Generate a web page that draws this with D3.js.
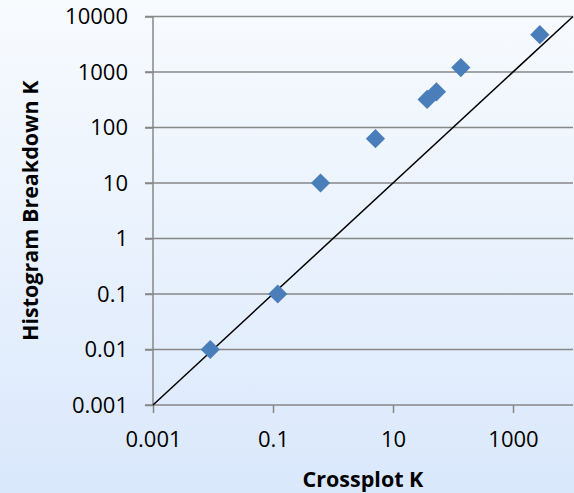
<!DOCTYPE html>
<html>
<head>
<meta charset="utf-8">
<script src="https://cdn.jsdelivr.net/npm/d3@7"></script>
<style>
  body { margin: 0; }
  svg { display: block; }
</style>
</head>
<body>
<div id="chart-area"></div>
<script>
// Crossplot K vs Histogram Breakdown K
var crossplotK = [0.009, 0.12, 0.62, 5.1, 37, 53, 135, 2800]
var histogramK = [0.01, 0.1, 10, 63, 320, 440, 1200, 4700]
var yTicks = [0.001, 0.01, 0.1, 1, 10, 100, 1000, 10000]
var xTicks = [0.001, 0.1, 10, 1000]
var xTitle = "Crossplot K"
var yTitle = "Histogram Breakdown K"

var data = crossplotK.map((d, i) => ({x: d, y: histogramK[i]}))

var cw = 574
var ch = 493
var m = {l: 153, t: 16.5, r: 1, b: 88}
var w = cw - m.l - m.r
var h = ch - m.t - m.b

var svg = d3.select("#chart-area").append("svg")
    .attr("width", cw)
    .attr("height", ch)

var grad = svg.append("defs").append("linearGradient")
    .attr("id", "bg")
    .attr("x1", 0).attr("y1", 0)
    .attr("x2", 0).attr("y2", 1)
grad.append("stop").attr("offset", "0%").attr("stop-color", "#f8fbfe")
grad.append("stop").attr("offset", "100%").attr("stop-color", "#dae8fc")

svg.append("rect")
    .attr("width", cw)
    .attr("height", ch)
    .attr("fill", "url(#bg)")

var g = svg.append("g")
    .attr("transform", "translate(" + m.l + ", " + m.t + ")")

var x = d3.scaleLog()
    .domain([0.001, 10000])
    .range([0, w])

var y = d3.scaleLog()
    .domain([0.001, 10000])
    .range([h, 0])

// horizontal gridlines
g.append("g")
    .attr("class", "grid")
    .selectAll("line")
    .data(yTicks).enter().append("line")
        .attr("x1", -8)
        .attr("x2", w)
        .attr("y1", d => y(d))
        .attr("y2", d => y(d))
        .attr("stroke", "#878787")
        .attr("stroke-width", 1.5)

var leftAxis = d3.axisLeft(y)
    .tickValues(yTicks)
    .tickFormat(d => d3.format("~f")(d))
    .tickSize(8)
    .tickPadding(17)

g.append("g")
    .attr("class", "left axis")
    .call(leftAxis)

var bottomAxis = d3.axisBottom(x)
    .tickValues(xTicks)
    .tickFormat(d => d3.format("~f")(d))
    .tickSize(8)
    .tickPadding(18)

g.append("g")
    .attr("class", "bottom axis")
    .attr("transform", "translate(0, " + h + ")")
    .call(bottomAxis)

g.selectAll(".axis path")
    .attr("stroke", "#878787")
    .attr("stroke-width", 1.5)
g.selectAll(".axis line")
    .attr("stroke", "#878787")
    .attr("stroke-width", 1.5)
g.selectAll(".axis text")
    .attr("font-family", "Open Sans")
    .attr("font-size", "22px")
    .attr("fill", "#000")

g.select(".left.axis").select(".domain").remove()
g.select(".left.axis").append("line")
    .attr("x1", 0).attr("x2", 0)
    .attr("y1", 0).attr("y2", h)
    .attr("stroke", "#878787")
    .attr("stroke-width", 1.5)
g.select(".bottom.axis").select(".domain").remove()

// y = x reference line
g.append("line")
    .attr("x1", x(0.001))
    .attr("y1", y(0.001))
    .attr("x2", x(10000))
    .attr("y2", y(10000))
    .attr("stroke", "#000")
    .attr("stroke-width", 1.5)

g.selectAll(".pt")
    .data(data).enter().append("path")
        .attr("class", "pt")
        .attr("d", d3.symbol().type(d3.symbolDiamond2).size(235))
        .attr("transform", d => "translate(" + x(d.x) + "," + y(d.y) + ")")
        .attr("fill", "#4a7ebb")

g.append("text")
    .attr("x", w / 2)
    .attr("y", h + 82)
    .attr("font-family", "Open Sans")
    .attr("font-weight", "bold")
    .attr("font-size", "21.5px")
    .attr("text-anchor", "middle")
    .text(xTitle)

g.append("text")
    .attr("x", -(h / 2))
    .attr("y", -115)
    .attr("font-family", "Open Sans")
    .attr("font-weight", "bold")
    .attr("font-size", "21.5px")
    .attr("text-anchor", "middle")
    .attr("transform", "rotate(-90)")
    .text(yTitle)
</script>
</body>
</html>
